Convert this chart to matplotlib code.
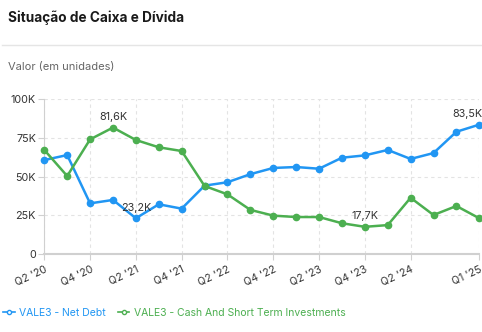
import matplotlib
matplotlib.use("Agg")
import matplotlib.pyplot as plt
from matplotlib.lines import Line2D
from matplotlib.ticker import FuncFormatter

quarters = ["Q2 '20", "Q3 '20", "Q4 '20", "Q1 '21", "Q2 '21", "Q3 '21", "Q4 '21",
            "Q1 '22", "Q2 '22", "Q3 '22", "Q4 '22", "Q1 '23", "Q2 '23", "Q3 '23",
            "Q4 '23", "Q1 '24", "Q2 '24", "Q3 '24", "Q4 '24", "Q1 '25"]
net_debt = [60.7, 63.9, 32.8, 35.0, 23.2, 32.2, 29.4, 44.2, 46.4, 51.6,
            55.6, 56.2, 55.1, 62.2, 63.7, 67.2, 61.4, 65.2, 78.9, 83.5]
cash = [67.2, 50.4, 74.0, 81.6, 73.6, 68.9, 66.5, 44.0, 38.6, 28.6,
        24.9, 24.0, 24.0, 20.0, 17.7, 18.8, 36.4, 25.3, 31.1, 23.2]
net_debt = [v * 1000 for v in net_debt]
cash = [v * 1000 for v in cash]
label_idx = [0, 2, 4, 6, 8, 10, 12, 14, 16, 19]
yticks = [0, 25000, 50000, 75000, 100000]

BLUE = "#2196F3"
GREEN = "#4CAF50"
plt.rcParams['font.family'] = ['Inter', 'DejaVu Sans']

W, H = 482, 332
fig = plt.figure(figsize=(W / 100, H / 100), dpi=100)
x0, x1 = 44.3, 479.3
ytop, ybot = 99.0, 254.3
ax = fig.add_axes([x0 / W, (H - ybot) / H, (x1 - x0) / W, (ybot - ytop) / H])

xs = list(range(len(quarters)))
ax.plot(xs, net_debt, color=BLUE, lw=1.8, marker='o', ms=4.5, clip_on=False, zorder=3)
ax.plot(xs, cash, color=GREEN, lw=1.8, marker='o', ms=4.5, clip_on=False, zorder=3)

ax.set_xlim(0, len(quarters) - 1)
ax.set_ylim(0, 100000)
ax.set_yticks(yticks)
ax.yaxis.set_major_formatter(FuncFormatter(lambda v, p: "0" if v == 0 else f"{int(v/1000)}K"))
ax.set_xticks(label_idx)
ax.set_xticklabels([quarters[i] for i in label_idx], rotation=25, ha='right',
                   rotation_mode='anchor')

ax.grid(True, color="#e3e3e3", lw=0.8, linestyle=(0, (3, 3)))
ax.set_axisbelow(True)
for s in ['top', 'right']:
    ax.spines[s].set_visible(False)
ax.spines['left'].set_color("#d0d0d0")
ax.spines['bottom'].set_color("#d0d0d0")
ax.spines['bottom'].set_linewidth(1.5)
ax.tick_params(axis='both', colors="#d0d0d0", labelcolor="#333333", labelsize=7.8, length=4)
ax.tick_params(axis='y', pad=2)
ax.tick_params(axis='x', pad=3, labelsize=7.6)

def ann(i, vals, ha='center', dx=0):
    v = vals[i]
    txt = f"{v/1000:.1f}K".replace('.', ',')
    ax.annotate(txt, (i, v), xytext=(dx, 4), textcoords='offset points',
                ha=ha, va='bottom', fontsize=7.8, color="#333333", zorder=4)

ann(3, cash)
ann(4, net_debt)
ann(14, cash)
ann(19, net_debt, ha='right', dx=2)

fig.text(8 / W, 1 - 18 / H, "Situação de Caixa e Dívida", fontsize=9.8, fontweight='bold',
         color="#1a1a1a", va='center', ha='left')
fig.add_artist(Line2D([2 / W, 1], [1 - 45 / H, 1 - 45 / H], color="#e5e5e5", lw=1))
fig.text(8 / W, 1 - 67 / H, "Valor (em unidades)", fontsize=8, color="#666666",
         va='center', ha='left')

handles = [Line2D([], [], color=BLUE, lw=1.2, marker='o', ms=3, mfc='white', mew=1),
           Line2D([], [], color=GREEN, lw=1.2, marker='o', ms=3, mfc='white', mew=1)]
leg = fig.legend(handles, ["VALE3 - Net Debt", "VALE3 - Cash And Short Term Investments"],
                 loc='center left', bbox_to_anchor=(0.0, 1 - 313 / H), ncol=2,
                 frameon=False, fontsize=7.5, handlelength=1.1, handletextpad=0.4,
                 columnspacing=1.2, borderaxespad=0, borderpad=0.3, labelcolor='linecolor')

fig.savefig("out.png", dpi=100)
